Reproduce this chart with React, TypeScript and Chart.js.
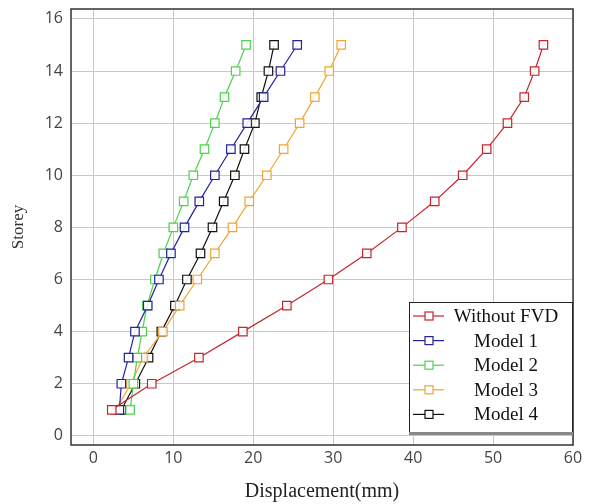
import React, { useEffect, useRef } from "react";
import { Chart, registerables } from "chart.js";

Chart.register(...registerables);

const storeys = [1, 2, 3, 4, 5, 6, 7, 8, 9, 10, 11, 12, 13, 14, 15];
const withoutFVD = [2.3, 7.3, 13.2, 18.7, 24.2, 29.4, 34.2, 38.6, 42.7, 46.2, 49.2, 51.8, 53.9, 55.2, 56.3];
const model1 = [3.25, 3.5, 4.4, 5.2, 6.8, 8.2, 9.7, 11.4, 13.25, 15.2, 17.2, 19.25, 21.3, 23.4, 25.5];
const model2 = [4.6, 5.0, 5.5, 6.1, 6.7, 7.7, 8.75, 10.0, 11.3, 12.5, 13.9, 15.2, 16.4, 17.8, 19.1];
const model3 = [2.8, 4.7, 6.2, 8.7, 10.8, 13.0, 15.2, 17.4, 19.5, 21.7, 23.8, 25.8, 27.7, 29.5, 31.0];
const model4 = [3.5, 5.25, 6.9, 8.5, 10.2, 11.7, 13.4, 14.9, 16.3, 17.7, 18.9, 20.2, 21.0, 21.9, 22.6];

const seriesLabels = ["Without FVD", "Model 1", "Model 2", "Model 3", "Model 4"];
const seriesColors = ["#c4262e", "#22229a", "#4cd24c", "#f0a532", "#111111"];
const seriesValues = [withoutFVD, model1, model2, model3, model4];

const xTitle = "Displacement(mm)";
const yTitle = "Storey";

const frameAndLegend = {
  id: "frameAndLegend",
  afterDraw(chart: any) {
    const { ctx, chartArea } = chart;
    ctx.save();
    ctx.strokeStyle = "#333";
    ctx.lineWidth = 1.5;
    ctx.strokeRect(chartArea.left, chartArea.top, chartArea.right - chartArea.left, chartArea.bottom - chartArea.top);

    const bx = chartArea.right - 164;
    const by = chartArea.bottom - 143;
    const bw = 163;
    const bh = 131;
    ctx.fillStyle = "#ffffff";
    ctx.fillRect(bx, by, bw, bh);
    ctx.strokeStyle = "#222";
    ctx.lineWidth = 1;
    ctx.strokeRect(bx + 0.5, by + 0.5, bw, bh);
    ctx.fillStyle = "#888";
    ctx.fillRect(bx, by + bh - 1, bw + 1, 3);

    ctx.font = "19px 'Liberation Serif', serif";
    ctx.textBaseline = "middle";
    ctx.textAlign = "center";
    seriesLabels.forEach((lab, i) => {
      const y = by + 14 + i * 24.6;
      const c = seriesColors[i];
      ctx.strokeStyle = c;
      ctx.lineWidth = 1.2;
      ctx.beginPath();
      ctx.moveTo(bx + 4, y);
      ctx.lineTo(bx + 35, y);
      ctx.stroke();
      ctx.fillStyle = "#fff";
      ctx.fillRect(bx + 16, y - 4, 8, 8);
      ctx.strokeRect(bx + 16, y - 4, 8, 8);
      ctx.fillStyle = "#111";
      ctx.fillText(lab, bx + 97, y + 1);
    });
    ctx.restore();
  },
};

export default function App() {
  const ref = useRef<HTMLCanvasElement>(null);
  useEffect(() => {
    document.body.style.margin = "0";
    const chart = new Chart(ref.current!, {
      type: "scatter",
      data: {
        datasets: seriesValues.map((vals, i) => ({
          label: seriesLabels[i],
          data: vals.map((v, j) => ({ x: v, y: storeys[j] })),
          showLine: true,
          borderColor: seriesColors[i],
          borderWidth: 1.2,
          pointStyle: "rect",
          pointRadius: 6,
          pointHoverRadius: 6,
          pointBorderWidth: 1.2,
          pointBorderColor: seriesColors[i],
          pointBackgroundColor: "rgba(255,255,255,0.9)",
        })),
      },
      options: {
        animation: false,
        responsive: false,
        layout: { padding: { top: 9, right: 22, left: 0, bottom: 0 } },
        plugins: { legend: { display: false }, tooltip: { enabled: false } },
        scales: {
          x: {
            type: "linear",
            min: -2.8,
            max: 60,
            afterFit: (s: any) => { s.height = 59; s.paddingLeft = 0; s.paddingRight = 0; },
            ticks: {
              stepSize: 10,
              includeBounds: false,
              padding: 4,
              color: "#444",
              font: { family: "'Open Sans', sans-serif", size: 16 },
            },
            grid: { color: "#c8c8c8", drawTicks: false, lineWidth: 1 },
            border: { display: false },
            title: {
              display: true,
              text: xTitle,
              color: "#222",
              font: { family: "'Liberation Serif', serif", size: 20 },
              padding: { top: 2, bottom: 0 },
            },
          },
          y: {
            type: "linear",
            min: -0.35,
            max: 16.38,
            afterFit: (s: any) => { s.width = 71; s.paddingTop = 0; s.paddingBottom = 0; },
            ticks: {
              stepSize: 2,
              includeBounds: false,
              padding: 8,
              color: "#444",
              font: { family: "'Open Sans', sans-serif", size: 16 },
            },
            grid: { color: "#c8c8c8", drawTicks: false, lineWidth: 1 },
            border: { display: false },
            title: {
              display: true,
              text: yTitle,
              color: "#333",
              font: { family: "'Liberation Serif', serif", size: 17 },
              padding: { top: 8, bottom: 4 },
            },
          },
        },
      },
      plugins: [frameAndLegend],
    });
    return () => chart.destroy();
  }, []);
  return <canvas ref={ref} width={595} height={504} style={{ display: "block" }} />;
}
